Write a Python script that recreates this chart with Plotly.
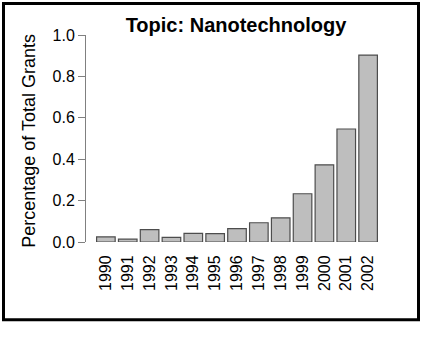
import plotly.graph_objects as go

years = ["1990", "1991", "1992", "1993", "1994", "1995", "1996",
         "1997", "1998", "1999", "2000", "2001", "2002"]
share = [0.025, 0.014, 0.060, 0.022, 0.042, 0.040, 0.065,
         0.093, 0.117, 0.233, 0.373, 0.546, 0.903]
y_ticks = [0.0, 0.2, 0.4, 0.6, 0.8, 1.0]
y_tick_text = ["0.0", "0.2", "0.4", "0.6", "0.8", "1.0"]

W, H = 422, 356
ML, MR, MT, MB = 86, 34, 35, 113.5
PW = W - ML - MR
PH = H - MT - MB

def px_to_paper_x(px):
    return (px - ML) / PW

def px_to_paper_y(py):
    return (H - MB - py) / PH

FONT = "Liberation Sans, Arial, Helvetica, sans-serif"

fig = go.Figure(go.Bar(
    x=list(range(len(years))), y=share,
    marker=dict(color="#bebebe", line=dict(color="#4d4d4d", width=1.2)),
    hoverinfo="skip",
))

fig.update_layout(
    width=W, height=H,
    margin=dict(l=ML, r=MR, t=MT, b=MB, pad=0),
    paper_bgcolor="white", plot_bgcolor="white",
    bargap=0.15,
    showlegend=False,
    font=dict(family=FONT, size=16, color="black"),
    title=dict(text="<b>Topic: Nanotechnology</b>", font=dict(family=FONT, size=20, color="black"),
               x=236 / W, xref="container", xanchor="center",
               y=1 - 25 / H, yref="container", yanchor="middle"),
    xaxis=dict(range=[-0.91, len(years) - 1 + 0.91], tickmode="array",
               tickvals=list(range(len(years))), ticktext=years,
               tickangle=-90, showline=False, showgrid=False, zeroline=False,
               ticks="outside", ticklen=6, tickcolor="rgba(0,0,0,0)",
               tickfont=dict(size=16)),
    yaxis=dict(range=[0, 1.0], tickmode="array", tickvals=y_ticks, ticktext=y_tick_text,
               showline=True, linecolor="#808080", linewidth=1,
               ticks="outside", ticklen=7, tickcolor="#808080", tickwidth=1,
               showgrid=False, zeroline=False, tickfont=dict(size=16)),
    annotations=[dict(text="Percentage of Total Grants", textangle=-90,
                      xref="paper", yref="paper",
                      x=px_to_paper_x(29), y=px_to_paper_y(141),
                      xanchor="center", yanchor="middle", showarrow=False,
                      font=dict(family=FONT, size=18, color="black"))],
    shapes=[dict(type="rect", xref="paper", yref="paper",
                 x0=px_to_paper_x(3.5), x1=px_to_paper_x(418.5),
                 y0=px_to_paper_y(320.5), y1=px_to_paper_y(3.5),
                 line=dict(color="black", width=3), fillcolor="rgba(0,0,0,0)",
                 layer="above")],
)

fig.write_html("out.html", config={"displayModeBar": False, "staticPlot": True},
               post_script="document.body.style.margin='0';document.body.style.padding='0';")
